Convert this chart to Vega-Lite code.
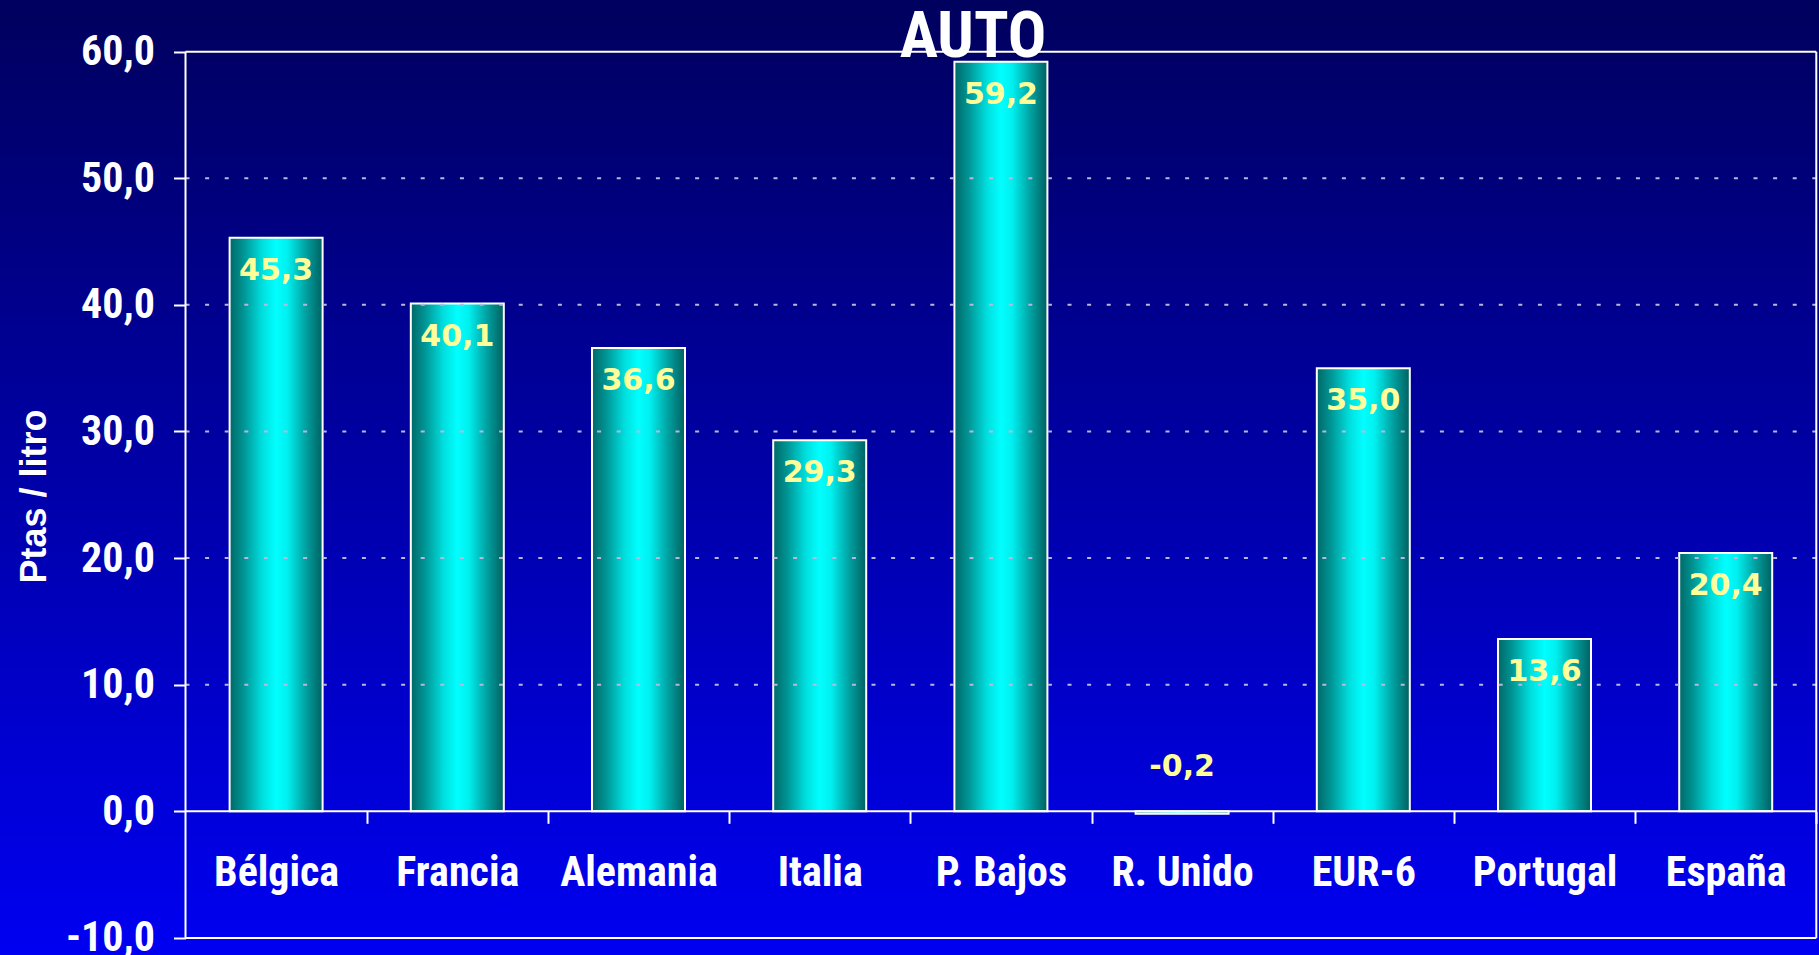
{
  "$schema": "https://vega.github.io/schema/vega-lite/v6.json",
  "autosize": {"type": "none"},
  "padding": 0,
  "width": 1819,
  "height": 955,
  "background": "#0000A8",
  "title": {
    "text": "AUTO",
    "orient": "none",
    "anchor": "start",
    "align": "center",
    "frame": "group",
    "offset": 0,
    "dx": 973,
    "dy": 57,
    "baseline": "alphabetic",
    "font": "Roboto Condensed, Liberation Sans Narrow, Arial Narrow, DejaVu Sans Condensed, sans-serif",
    "fontSize": 64,
    "fontWeight": "bold",
    "color": "white",
    "zindex": 2
  },
  "data": {
    "values": [
      {"pais": "Bélgica", "valor": 45.3},
      {"pais": "Francia", "valor": 40.1},
      {"pais": "Alemania", "valor": 36.6},
      {"pais": "Italia", "valor": 29.3},
      {"pais": "P. Bajos", "valor": 59.2},
      {"pais": "R. Unido", "valor": -0.2},
      {"pais": "EUR-6", "valor": 35.0},
      {"pais": "Portugal", "valor": 13.6},
      {"pais": "España", "valor": 20.4}
    ]
  },
  "layer": [
    {
      "mark": {
        "type": "bar",
        "stroke": "white",
        "strokeWidth": 2,
        "fill": {
          "gradient": "linear",
          "x1": 0, "y1": 0, "x2": 1, "y2": 0,
          "stops": [
            {"offset": 0, "color": "#006868"},
            {"offset": 0.15, "color": "#009494"},
            {"offset": 0.35, "color": "#00dede"},
            {"offset": 0.5, "color": "#00ffff"},
            {"offset": 0.62, "color": "#00f0f0"},
            {"offset": 0.82, "color": "#00a0a0"},
            {"offset": 1, "color": "#006060"}
          ]
        }
      },
      "encoding": {
        "x": {
          "field": "pais",
          "type": "nominal",
          "scale": {
            "domain": ["Bélgica", "Francia", "Alemania", "Italia", "P. Bajos", "R. Unido", "EUR-6", "Portugal", "España"],
            "paddingInner": 0.4868,
            "paddingOuter": 0.7627,
            "align": 0.8307
          },
          "axis": {
            "orient": "bottom",
            "offset": -143.7,
            "zindex": 1,
            "title": null,
            "domain": false,
            "grid": false,
            "ticks": true,
            "tickSize": 12,
            "tickWidth": 2,
            "tickColor": "white",
            "tickOffset": 90.6,
            "labelOffset": -90.6,
            "labelAngle": 0,
            "labelLimit": 0,
            "labelFont": "Roboto Condensed, Liberation Sans Narrow, Arial Narrow, DejaVu Sans Condensed, sans-serif",
            "labelFontSize": 42,
            "labelFontWeight": "bold",
            "labelColor": "white",
            "labelBaseline": "alphabetic",
            "labelPadding": 62
          }
        },
        "y": {
          "field": "valor",
          "type": "quantitative",
          "scale": {"domain": [-11.35, 64.08], "nice": false, "zero": false},
          "axis": {
            "orient": "left",
            "offset": -185.5,
            "zindex": 1,
            "values": [-10, 0, 10, 20, 30, 40, 50, 60],
            "format": ".1f",
            "domain": false,
            "grid": false,
            "tickSize": 12,
            "tickWidth": 2,
            "tickColor": "white",
            "labelLimit": 0,
            "labelFont": "Roboto Condensed, Liberation Sans Narrow, Arial Narrow, DejaVu Sans Condensed, sans-serif",
            "labelFontSize": 42,
            "labelFontWeight": "bold",
            "labelColor": "white",
            "labelPadding": 19,
            "labelBaseline": "middle",
            "title": "Ptas / litro",
            "titleFont": "Liberation Sans, Arial, sans-serif",
            "titleFontSize": 36,
            "titleFontWeight": "bold",
            "titleColor": "white",
            "titleAngle": -90,
            "titleAlign": "center",
            "titleBaseline": "alphabetic",
            "titleX": -140.5,
            "titleY": 496
          }
        }
      }
    },
    {
      "data": {"values": [{"v": 10}, {"v": 20}, {"v": 30}, {"v": 40}, {"v": 50}]},
      "mark": {"type": "rule", "color": "#b8b8dc", "strokeWidth": 2, "strokeDash": [4, 15.6]},
      "encoding": {
        "y": {"field": "v", "type": "quantitative"},
        "x": {"datum": "Bélgica", "bandPosition": -0.4742},
        "x2": {"datum": "España", "bandPosition": 1.4742}
      }
    },
    {
      "data": {"values": [{"v": 60}, {"v": 0}, {"v": -10}]},
      "mark": {"type": "rule", "color": "white", "strokeWidth": 2},
      "encoding": {
        "y": {"field": "v", "type": "quantitative"},
        "x": {"datum": "Bélgica", "bandPosition": -0.4742},
        "x2": {"datum": "España", "bandPosition": 1.4742}
      }
    },
    {
      "data": {"values": [{}]},
      "mark": {"type": "rule", "color": "white", "strokeWidth": 2},
      "encoding": {
        "x": {"datum": "Bélgica", "bandPosition": -0.4742},
        "y": {"datum": 60},
        "y2": {"datum": -10}
      }
    },
    {
      "data": {"values": [{}]},
      "mark": {"type": "rule", "color": "white", "strokeWidth": 2},
      "encoding": {
        "x": {"datum": "España", "bandPosition": 1.4742},
        "y": {"datum": 60},
        "y2": {"datum": -10}
      }
    },
    {
      "transform": [{"filter": "datum.valor >= 0"}],
      "mark": {"type": "text", "font": "DejaVu Sans, sans-serif", "fontSize": 30, "fontWeight": "bold", "color": "#ffff99", "baseline": "middle", "align": "center", "dy": 33},
      "encoding": {
        "x": {"field": "pais", "type": "nominal"},
        "y": {"field": "valor", "type": "quantitative"},
        "text": {"field": "valor", "type": "quantitative", "format": ".1f"}
      }
    },
    {
      "transform": [{"filter": "datum.valor < 0"}],
      "mark": {"type": "text", "font": "DejaVu Sans, sans-serif", "fontSize": 30, "fontWeight": "bold", "color": "#ffff99", "baseline": "middle", "align": "center", "dy": -47},
      "encoding": {
        "x": {"field": "pais", "type": "nominal"},
        "y": {"field": "valor", "type": "quantitative"},
        "text": {"field": "valor", "type": "quantitative", "format": ".1f"}
      }
    }
  ],
  "config": {
    "locale": {
      "number": {"decimal": ",", "thousands": ".", "grouping": [3], "currency": ["", " €"], "minus": "-"}
    },
    "view": {
      "stroke": null,
      "fill": {
        "gradient": "linear",
        "x1": 0, "y1": 0, "x2": 0, "y2": 1,
        "stops": [
          {"offset": 0, "color": "#00005e"},
          {"offset": 1, "color": "#0000f2"}
        ]
      }
    }
  }
}
